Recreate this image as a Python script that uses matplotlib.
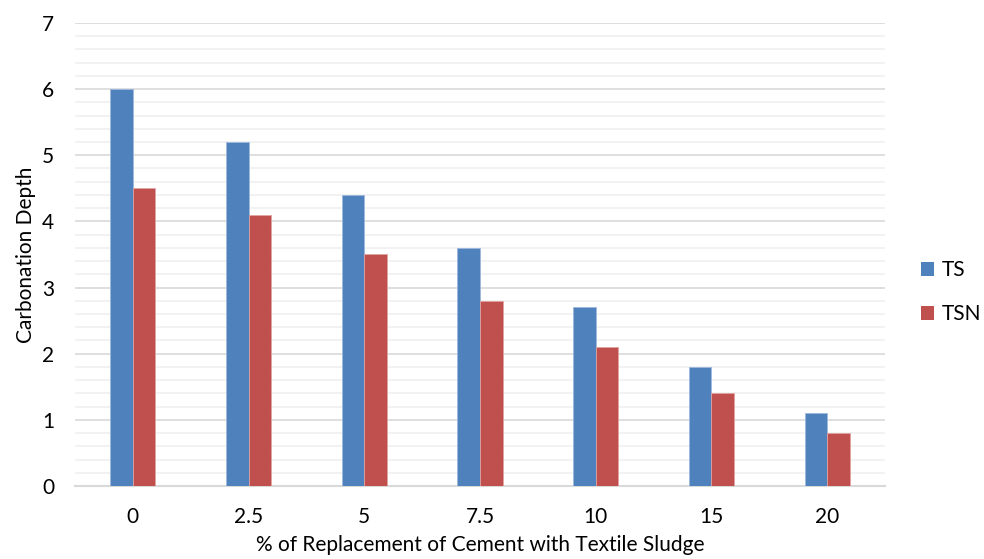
import matplotlib
matplotlib.use("Agg")
import matplotlib.pyplot as plt
from matplotlib.patches import Patch
import numpy as np

categories = ["0", "2.5", "5", "7.5", "10", "15", "20"]
ts = [6.0, 5.2, 4.4, 3.6, 2.7, 1.8, 1.1]
tsn = [4.5, 4.1, 3.5, 2.8, 2.1, 1.4, 0.8]

plt.rcParams['font.family'] = ['Lato', 'DejaVu Sans']

fig = plt.figure(figsize=(9.84, 5.59), dpi=100)
ax = fig.add_axes([0.0762, 0.1306, 0.8232, 0.8283])

x = np.arange(len(categories))
w = 0.195
blue = "#4F81BD"
red = "#C0504D"
ax.bar(x - w / 2, ts, width=w, color=blue, edgecolor="#9DB8DC", linewidth=0.6, zorder=3)
ax.bar(x + w / 2, tsn, width=w, color=red, edgecolor="#E0A3A1", linewidth=0.6, zorder=3)

ax.set_xlim(-0.5, len(categories) - 0.5)
ax.set_ylim(0, 7)
ax.set_yticks(np.arange(0, 8, 1))
ax.set_yticks(np.arange(0, 7.01, 0.2), minor=True)
ax.set_xticks(x)
ax.set_xticklabels(categories)
ax.grid(axis="y", which="major", color="#D9D9D9", linewidth=1.2, zorder=0)
ax.grid(axis="y", which="minor", color="#F0F0F0", linewidth=1.2, zorder=0)
for s in ["top", "right", "left"]:
    ax.spines[s].set_visible(False)
ax.spines["bottom"].set_color("#D9D9D9")
ax.spines["bottom"].set_linewidth(1.5)
ax.tick_params(axis="both", which="both", length=0, labelsize=15, colors="#000000")
ax.tick_params(axis="x", pad=15)
ax.tick_params(axis="y", pad=15)

ax.set_ylabel("Carbonation Depth", fontsize=15, labelpad=4)
ax.set_xlabel("% of Replacement of Cement with Textile Sludge", fontsize=15, labelpad=6)

handles = [Patch(facecolor=blue, edgecolor="none"), Patch(facecolor=red, edgecolor="none")]
fig.legend(handles, ["TS", "TSN"], loc="center left", bbox_to_anchor=(0.932, 0.477),
           frameon=False, fontsize=15, handlelength=0.6, handleheight=0.6,
           handletextpad=0.4, labelspacing=1.15, borderpad=0.2, borderaxespad=0)

fig.savefig("out.png", dpi=100)
